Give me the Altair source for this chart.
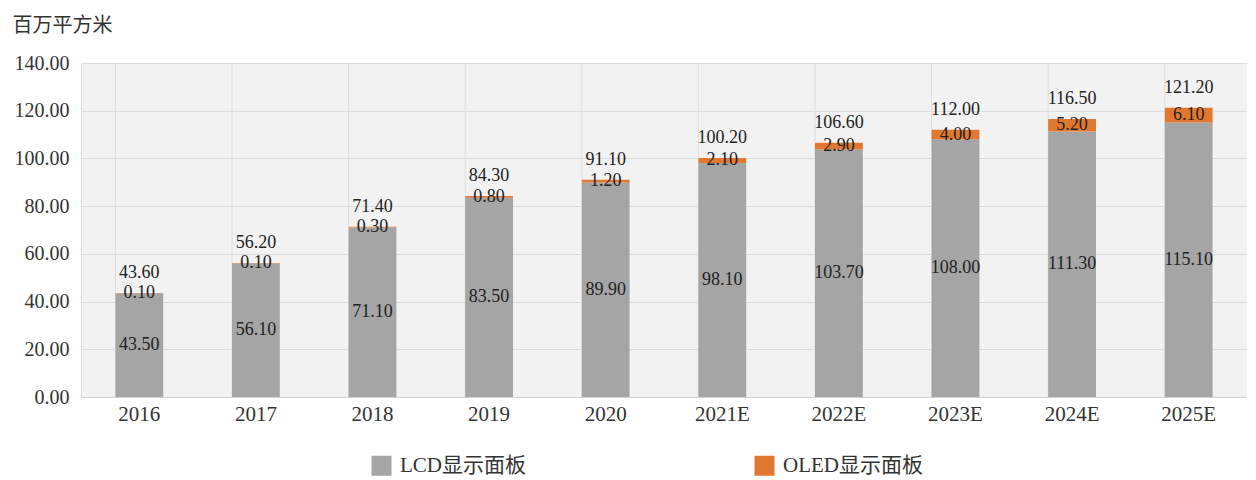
import altair as alt
import pandas as pd

years = ["2016", "2017", "2018", "2019", "2020", "2021E", "2022E", "2023E", "2024E", "2025E"]
lcd = [43.50, 56.10, 71.10, 83.50, 89.90, 98.10, 103.70, 108.00, 111.30, 115.10]
oled = [0.10, 0.10, 0.30, 0.80, 1.20, 2.10, 2.90, 4.00, 5.20, 6.10]
totals = [43.60, 56.20, 71.40, 84.30, 91.10, 100.20, 106.60, 112.00, 116.50, 121.20]
series = ["LCD显示面板", "OLED显示面板"]
colors = ["#a5a5a5", "#e2782f"]
y_ticks = [0, 20, 40, 60, 80, 100, 120, 140]

FONT = "Liberation Serif, Noto Sans CJK SC"
H = 334
W = 1166

rows = []
for i, yr in enumerate(years):
    rows.append({"year": yr, "series": series[0], "order": 0, "value": lcd[i],
                 "start": 0.0, "end": lcd[i]})
    rows.append({"year": yr, "series": series[1], "order": 1, "value": oled[i],
                 "start": lcd[i], "end": lcd[i] + oled[i]})
df = pd.DataFrame(rows)
df["mid"] = (df["start"] + df["end"]) / 2
tot = pd.DataFrame({"year": years, "total": totals})

xscale = alt.Scale(paddingInner=0.59, paddingOuter=0.295)
yscale = alt.Scale(domain=[0, 140], nice=False)

x_axis = alt.Axis(labelAngle=0, labelFontSize=21, labelFont=FONT, labelColor="#333333",
                  ticks=False, domain=True, domainColor="#d0d0d0", labelPadding=6, title=None)

grid_v = alt.Chart(tot).mark_rule(color="#dedede", strokeWidth=1).encode(
    x=alt.X("year:N", sort=years, scale=xscale, bandPosition=0, axis=x_axis, title=None),
    y=alt.value(0),
    y2=alt.value(H),
)

bars = alt.Chart(df).mark_bar().encode(
    x=alt.X("year:N", sort=years, scale=xscale, title=None, axis=x_axis),
    y=alt.Y("start:Q", scale=yscale,
            axis=alt.Axis(values=y_ticks, format=".2f", grid=True, gridColor="#dcdcdc",
                          ticks=False, domain=False, labelFontSize=20, labelFont=FONT,
                          labelColor="#333333", labelPadding=12,
                          title="百万平方米", titleAngle=0, titleX=-69, titleY=-38,
                          titleAlign="left", titleBaseline="middle", titleFontSize=20,
                          titleFont=FONT, titleFontWeight="normal", titleColor="#333333")),
    y2="end:Q",
    color=alt.Color("series:N", scale=alt.Scale(domain=series, range=colors),
                    legend=alt.Legend(orient="none", legendX=290, legendY=392,
                                      direction="horizontal", columns=2, title=None,
                                      symbolType="square", symbolSize=400,
                                      symbolStrokeWidth=0, labelFontSize=21,
                                      labelFont=FONT, labelColor="#333333",
                                      columnPadding=228, labelOffset=8)),
    order="order:Q",
)

seg_text = alt.Chart(df).mark_text(fontSize=18, font=FONT, color="#222222", baseline="middle").encode(
    x=alt.X("year:N", sort=years, scale=xscale),
    y=alt.Y("mid:Q", scale=yscale),
    text=alt.Text("value:Q", format=".2f"),
)

tot_text = alt.Chart(tot).mark_text(fontSize=18, font=FONT, color="#222222",
                                    baseline="bottom", dy=-11).encode(
    x=alt.X("year:N", sort=years, scale=xscale),
    y=alt.Y("total:Q", scale=yscale),
    text=alt.Text("total:Q", format=".2f"),
)

chart = alt.layer(grid_v, bars, seg_text, tot_text).properties(
    width=W, height=H,
    autosize=alt.AutoSizeParams(type="none"),
    padding={"left": 73, "top": 55, "right": 0, "bottom": 80},
).configure_view(fill="#f2f2f2", stroke="#d9d9d9")

chart.save("out.html", embed_options={"renderer": "svg", "actions": False})
